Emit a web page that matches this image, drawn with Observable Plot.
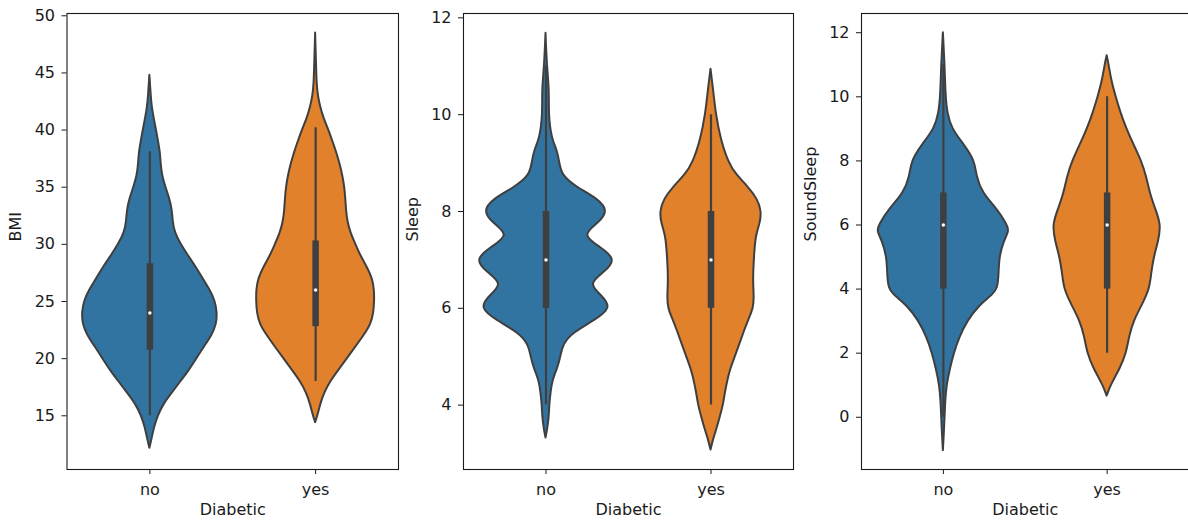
<!DOCTYPE html>
<html>
<head>
<meta charset="utf-8">
<script src="https://cdn.jsdelivr.net/npm/d3@7"></script>
<script src="https://cdn.jsdelivr.net/npm/@observablehq/plot@0.6"></script>
<style>
  html, body { margin: 0; padding: 0; background: #fff; overflow: hidden; }
  #wrap { display: flex; width: 1200px; }
  #wrap svg { display: block; flex: none; }
</style>
</head>
<body>
<div id="wrap"></div>
<script>
// ---- data ----
const categories = ["no", "yes"];
const fillColors = ["#3274a1", "#e1812c"];
const xLabel = "Diabetic";

// violin profiles: [value, relative density]
const bmiNo = [[12.15,0],[13,0.035],[14,0.07],[15,0.126],[16,0.21],[17,0.34],[18,0.47],[19,0.6],[20,0.71],[21,0.82],[22,0.94],[23,1.01],[24,1.02],[25,0.99],[26,0.91],[27,0.8],[28,0.7],[29,0.58],[30,0.47],[31,0.38],[32,0.35],[33,0.34],[34,0.3],[35,0.24],[36,0.19],[37,0.17],[38,0.16],[39,0.13],[40,0.1],[41,0.065],[42,0.035],[43,0.02],[44.8,0]];
const bmiYes = [[14.4,0],[15,0.035],[16,0.076],[17,0.136],[18,0.227],[19,0.353],[20,0.48],[21,0.606],[22,0.73],[23,0.84],[24,0.88],[25,0.89],[26,0.89],[27,0.86],[28,0.78],[29,0.68],[30,0.606],[31,0.53],[32,0.485],[33,0.465],[34,0.455],[35,0.44],[36,0.41],[37,0.37],[38,0.32],[39,0.26],[40,0.2],[41,0.126],[42,0.076],[43,0.04],[44,0.022],[46,0.012],[48.5,0]];
const sleepNo = [[3.32,0],[3.5,0.026],[3.75,0.05],[4,0.056],[4.25,0.076],[4.5,0.1],[4.75,0.177],[5,0.227],[5.25,0.26],[5.5,0.42],[5.75,0.75],[6,1.0],[6.25,0.86],[6.5,0.64],[6.75,0.9],[7,1.07],[7.25,0.84],[7.5,0.54],[7.75,0.8],[8,0.95],[8.25,0.8],[8.5,0.46],[8.75,0.24],[9,0.21],[9.25,0.177],[9.5,0.09],[10,0.045],[10.5,0.056],[11,0.02],[11.68,0]];
const sleepYes = [[3.07,0],[3.25,0.03],[3.5,0.09],[3.75,0.14],[4,0.19],[4.25,0.217],[4.5,0.253],[4.75,0.3],[5,0.37],[5.25,0.435],[5.5,0.5],[5.75,0.57],[6,0.65],[6.25,0.656],[6.5,0.645],[6.75,0.647],[7,0.656],[7.5,0.68],[7.75,0.75],[8,0.77],[8.25,0.71],[8.5,0.57],[8.75,0.39],[9,0.27],[9.5,0.15],[10,0.08],[10.5,0.04],[10.94,0]];
const soundNo = [[-1.04,0],[-0.5,0.015],[0,0.026],[0.5,0.035],[1,0.056],[1.5,0.106],[2,0.167],[2.5,0.253],[3,0.37],[3.5,0.56],[3.75,0.72],[4,0.84],[4.5,0.85],[5,0.86],[5.5,0.93],[5.8,1.01],[6,0.98],[6.5,0.82],[7,0.6],[7.5,0.51],[8,0.485],[8.5,0.32],[9,0.13],[9.5,0.065],[10,0.04],[11,0.026],[12,0]];
const soundYes = [[0.66,0],[1,0.06],[1.5,0.2],[2,0.3],[2.5,0.34],[3,0.41],[3.5,0.54],[4,0.656],[4.5,0.68],[5,0.72],[5.5,0.79],[6,0.83],[6.5,0.74],[7,0.656],[7.5,0.606],[8,0.526],[8.5,0.41],[9,0.3],[9.5,0.21],[10,0.136],[10.5,0.07],[11,0.03],[11.28,0]];

// inner box statistics per category [no, yes]
const bmiQ1 = [20.75, 22.8], bmiQ3 = [28.3, 30.3], bmiMedian = [24, 26], bmiLow = [15, 18], bmiHigh = [38.1, 40.2];
const sleepQ1 = [6, 6], sleepQ3 = [8, 8], sleepMedian = [7, 7], sleepLow = [4, 4], sleepHigh = [11, 10];
const soundQ1 = [4, 4], soundQ3 = [7, 7], soundMedian = [6, 6], soundLow = [0, 2], soundHigh = [11, 10];

// tick labels
const bmiTicks = [15, 20, 25, 30, 35, 40, 45, 50];
const sleepTicks = [4, 6, 8, 10, 12];
const soundTicks = [0, 2, 4, 6, 8, 10, 12];

// ---- drawing ----
const gray = "#3f3f3f";
const halfWidth = 0.4;

function panel({label, domain, ticks, profiles, q1, q3, median, low, high, width, marginLeft, marginRight}) {
  const stats = categories.map((c, i) => ({i, q1: q1[i], q3: q3[i], median: median[i], low: low[i], high: high[i]}));
  const violinMarks = profiles.map((prof, i) =>
    Plot.areaX(prof.map(([v, d]) => ({y: v, x1: i - d * halfWidth, x2: i + d * halfWidth})), {
      y: "y", x1: "x1", x2: "x2",
      fill: fillColors[i], stroke: gray, strokeWidth: 2, strokeLinejoin: "round",
      curve: "basis"
    })
  );
  return Plot.plot({
    width, height: 525,
    marginTop: 13, marginBottom: 56, marginLeft, marginRight,
    style: {fontFamily: "'DejaVu Sans', sans-serif", fontSize: "16px", color: "#1a1a1a", background: "#fff", overflow: "visible"},
    x: {domain: [-0.5, 1.5], ticks: [0, 1], tickFormat: i => categories[i], tickSize: 5, tickPadding: 9, label: null},
    y: {domain, ticks, tickSize: 5, tickPadding: 7, label: null},
    marks: [
      ...violinMarks,
      Plot.ruleX(stats, {x: "i", y1: "low", y2: "high", stroke: gray, strokeWidth: 2.2}),
      Plot.ruleX(stats, {x: "i", y1: "q1", y2: "q3", stroke: gray, strokeWidth: 6.5}),
      Plot.dot(stats, {x: "i", y: "median", r: 2, fill: "#fff", stroke: gray, strokeWidth: 0.6}),
      Plot.frame({stroke: "#1a1a1a", strokeWidth: 1.1}),
      Plot.text([label], {text: d => d, frameAnchor: "left", dx: -51, rotate: -90, fill: "#1a1a1a"}),
      Plot.text([xLabel], {text: d => d, frameAnchor: "bottom", dy: 45, fill: "#1a1a1a"})
    ]
  });
}

const wrap = document.getElementById("wrap");
wrap.append(panel({label: "BMI", domain: [10.3, 50.2], ticks: bmiTicks, profiles: [bmiNo, bmiYes],
  q1: bmiQ1, q3: bmiQ3, median: bmiMedian, low: bmiLow, high: bmiHigh, width: 400, marginLeft: 66.5, marginRight: 2}));
wrap.append(panel({label: "Sleep", domain: [2.67, 12.09], ticks: sleepTicks, profiles: [sleepNo, sleepYes],
  q1: sleepQ1, q3: sleepQ3, median: sleepMedian, low: sleepLow, high: sleepHigh, width: 395, marginLeft: 63, marginRight: 2}));
wrap.append(panel({label: "SoundSleep", domain: [-1.63, 12.6], ticks: soundTicks, profiles: [soundNo, soundYes],
  q1: soundQ1, q3: soundQ3, median: soundMedian, low: soundLow, high: soundHigh, width: 395, marginLeft: 66, marginRight: 1.5}));
</script>
</body>
</html>
